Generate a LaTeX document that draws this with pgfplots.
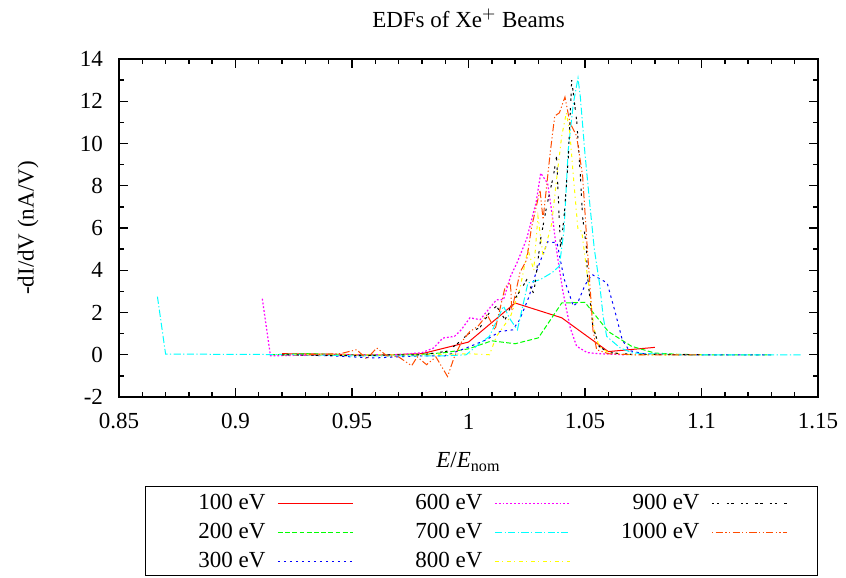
\documentclass[border=0pt]{standalone}
\usepackage{fontspec}
\setmainfont{Liberation Serif}
\usepackage{pgfplots}
\pgfplotsset{compat=1.18}
\definecolor{gpred}{rgb}{1,0,0}
\definecolor{gpgreen}{rgb}{0,1,0}
\definecolor{gpblue}{rgb}{0,0,1}
\definecolor{gpmag}{rgb}{1,0,1}
\definecolor{gpcyan}{rgb}{0,1,1}
\definecolor{gpyellow}{rgb}{1,1,0}
\definecolor{gporange}{rgb}{1,0.3,0}
\pgfplotsset{
  sA/.style={color=gpred, line width=0.5pt, solid},
  sB/.style={color=gpgreen, line width=0.5pt, dash pattern=on 2.4pt off 1.2pt},
  sC/.style={color=gpblue, line width=0.5pt, dash pattern=on 1.2pt off 1.8pt},
  sF/.style={color=gpmag, line width=0.6pt, dash pattern=on 0.9pt off 1.0pt},
  sG/.style={color=gpcyan, line width=0.5pt, dash pattern=on 3.6pt off 1.2pt on 0.6pt off 1.2pt},
  sH/.style={color=gpyellow, line width=0.5pt, dash pattern=on 1.8pt off 1.8pt on 0.6pt off 1.8pt},
  sI/.style={color=black, line width=0.5pt, dash pattern=on 1.2pt off 1.2pt on 1.2pt off 3.6pt},
  sJ/.style={color=gporange, line width=0.5pt, dash pattern=on 0.6pt off 1.2pt on 3.6pt off 1.2pt on 0.6pt off 1.2pt},
  sDummy/.style={color=white, line width=0.05pt, solid},
}
\begin{document}
\begin{tikzpicture}[font=\fontsize{11.5}{13.8}\selectfont]
\begin{axis}[
  scale only axis, width=349.5pt, height=169pt,
  xmin=0.85, xmax=1.15, ymin=-2, ymax=14,
  xtick={0.85,0.9,0.95,1,1.05,1.1,1.15},
  xticklabels={0.85,0.9,0.95,1,1.05,1.1,1.15},
  ytick={-2,0,2,4,6,8,10,12,14},
  minor x tick num=4, minor y tick num=1,
  tick align=inside, major tick length=4.5pt, minor tick length=2.5pt,
  axis line style={line width=1pt},
  every tick/.style={black, line width=0.7pt},
  /pgf/number format/assume math mode=true,
  title={EDFs of Xe$^+$ Beams},
  title style={at={(0.5,1)}, anchor=center, yshift=14.5pt},
  xlabel={\textit{E}/\textit{E}\textsubscript{nom}},
  xlabel style={at={(axis description cs:0.5,-0.192)}, anchor=center},
  ylabel={-dI/dV (nA/V)},
  ylabel style={at={(axis description cs:-0.13,0.5)}, anchor=center},
  xticklabel style={anchor=center, yshift=-12.25pt},
  yticklabel style={xshift=-4.5pt},
  legend columns=3,
  legend plot pos=right,
  legend image code/.code={\draw[#1] (0pt,0pt) -- (37.5pt,0pt);},
  legend style={at={(axis description cs:0.5186,-0.3964)}, anchor=center,
    draw=black, fill=white,
    line width=0.8pt, inner xsep=15pt, inner ysep=0pt,
    nodes={inner xsep=4pt, inner ysep=2.6pt, text=black},
    row sep=0pt,
    /tikz/row 1/.style={nodes={inner sep=0pt}},
    /tikz/every odd column/.append style={column sep=2pt},
    /tikz/every even column/.append style={column sep=19.5pt}},
]
% 100 eV
\addplot[sA, forget plot] coordinates {
(0.92,0.05) (0.94,0.03) (0.96,-0.02) (0.98,0.05) (1.00,0.6) (1.02,2.45) (1.04,1.75) (1.06,0.15) (1.08,0.35)};
% 200 eV
\addplot[sB, forget plot] coordinates {
(0.915,0) (0.93,0.05) (0.95,0) (0.97,0) (0.98,0.02) (0.99,0.1) (1.0,0.28) (1.01,0.66) (1.02,0.52) (1.03,0.8) (1.04,2.45) (1.05,2.48) (1.06,1.1) (1.07,0.4) (1.08,0.08) (1.09,0.02) (1.1,0) (1.13,0)};
% 300 eV
\addplot[sC, forget plot] coordinates {
(0.92,0) (0.94,-0.05) (0.96,-0.15) (0.97,-0.1) (0.98,-0.05) (0.99,-0.05) (0.999,0.32) (1.0077,0.71) (1.0135,1.1) (1.019,1.18) (1.022,1.66) (1.026,2.76) (1.029,3.9) (1.034,5.35) (1.038,5.3) (1.041,3.6) (1.045,2.3) (1.047,2.5) (1.05,3.3) (1.053,3.8) (1.0595,3.4) (1.063,2.0) (1.066,0.7) (1.069,0.2) (1.075,0.05) (1.09,0) (1.13,0)};
% 600 eV
\addplot[sF, forget plot] coordinates {
(0.9115,2.65) (0.915,-0.05) (0.93,-0.02) (0.95,0) (0.97,0) (0.98,0.1) (0.985,0.32) (0.989,0.79) (0.994,0.87) (0.997,1.2) (1.0006,1.75) (1.005,1.66) (1.009,2.2) (1.012,2.6) (1.015,2.6) (1.018,3.7) (1.021,4.4) (1.025,5.5) (1.029,7.2) (1.031,8.6) (1.034,8.1) (1.036,6.55) (1.038,4.8) (1.0405,3.0) (1.0436,1.3) (1.0464,0.4) (1.051,0.1) (1.056,0.05) (1.067,0)};
% 700 eV
\addplot[sG, forget plot] coordinates {
(0.8665,2.75) (0.87,0.03) (0.9,0.02) (0.93,0) (0.95,-0.05) (0.97,-0.05) (0.99,-0.05) (0.999,0.0) (1.005,0.55) (1.009,0.87) (1.015,2.3) (1.018,1.66) (1.021,1.18) (1.0255,3.4) (1.0307,3.55) (1.036,3.9) (1.039,4.2) (1.041,5.9) (1.0428,9.7) (1.045,11.9) (1.047,13.1) (1.048,12.2) (1.05,9.5) (1.052,7.2) (1.054,5.0) (1.0564,3.24) (1.0578,1.8) (1.0593,0.87) (1.065,0.33) (1.0706,0.08) (1.09,0) (1.12,0) (1.143,0)};
% 800 eV
\addplot[sH, forget plot] coordinates {
(0.92,0) (0.95,0) (0.98,0) (0.99,0.02) (1.0,0.05) (1.009,0.0) (1.012,0.87) (1.018,1.8) (1.022,3.1) (1.0255,5.0) (1.028,4.0) (1.0298,6.55) (1.032,4.66) (1.0357,6.2) (1.038,8.5) (1.040,10.35) (1.042,11.45) (1.0435,10.5) (1.045,8.45) (1.047,5.9) (1.0486,5.85) (1.052,2.9) (1.054,1.18) (1.056,0.4) (1.06,0.1) (1.07,0) (1.1,0)};
% 900 eV
\addplot[sI, forget plot] coordinates {
(0.92,0) (0.95,-0.05) (0.97,0) (0.98,0.0) (0.9906,0.16) (0.995,0.5) (1.0,1.0) (1.005,1.3) (1.009,2.0) (1.012,2.3) (1.0157,1.66) (1.019,2.5) (1.022,3.0) (1.025,3.55) (1.028,2.9) (1.031,5.5) (1.0335,7.0) (1.0365,8.5) (1.0378,9.4) (1.0395,5.0) (1.041,6.5) (1.0428,9.24) (1.0443,13.0) (1.0465,11.0) (1.048,8.5) (1.049,6.5) (1.0507,5.0) (1.051,3.8) (1.0534,1.34) (1.056,0.4) (1.06,0.1) (1.07,0.02) (1.1,0)};
% 1000 eV
\addplot[sJ, forget plot] coordinates {
(0.93,0) (0.945,0.05) (0.952,0.24) (0.9563,-0.2) (0.9606,0.32) (0.965,-0.05) (0.97,-0.1) (0.9756,-0.52) (0.978,-0.1) (0.982,-0.47) (0.986,-0.1) (0.991,-1.03) (0.994,-0.08) (0.997,0.6) (1.0006,1.1) (1.004,1.34) (1.008,1.9) (1.0114,1.18) (1.0157,3.2) (1.018,3.4) (1.0186,2.1) (1.0221,3.9) (1.025,4.5) (1.027,6.0) (1.0307,7.8) (1.032,6.4) (1.035,9.5) (1.037,11.3) (1.039,11.45) (1.0414,12.2) (1.0435,11.0) (1.0464,10.35) (1.049,8.45) (1.051,5.0) (1.052,3.5) (1.0534,1.18) (1.055,0.24) (1.06,0.05) (1.07,0) (1.1,0)};
% zero-height first legend row (absorbs the colour of the first cell)
\addlegendimage{sDummy}\addlegendentry{\mbox{}}
\addlegendimage{sDummy}\addlegendentry{\mbox{}}
\addlegendimage{sDummy}\addlegendentry{\mbox{}}
% legend, filled column by column
\addlegendimage{sA}\addlegendentry{\makebox[41pt][r]{100 eV}}
\addlegendimage{sF}\addlegendentry{\makebox[41pt][r]{600 eV}}
\addlegendimage{sI}\addlegendentry{\makebox[41pt][r]{900 eV}}
\addlegendimage{sB}\addlegendentry{\makebox[41pt][r]{200 eV}}
\addlegendimage{sG}\addlegendentry{\makebox[41pt][r]{700 eV}}
\addlegendimage{sJ}\addlegendentry{\makebox[41pt][r]{1000 eV}}
\addlegendimage{sC}\addlegendentry{\makebox[41pt][r]{300 eV}}
\addlegendimage{sH}\addlegendentry{\makebox[41pt][r]{800 eV}}
\end{axis}
\pgfresetboundingbox
\path (current axis.south west) ++(-59.5pt,-90.5pt) rectangle ++(423pt,289pt);
\end{tikzpicture}
\end{document}
